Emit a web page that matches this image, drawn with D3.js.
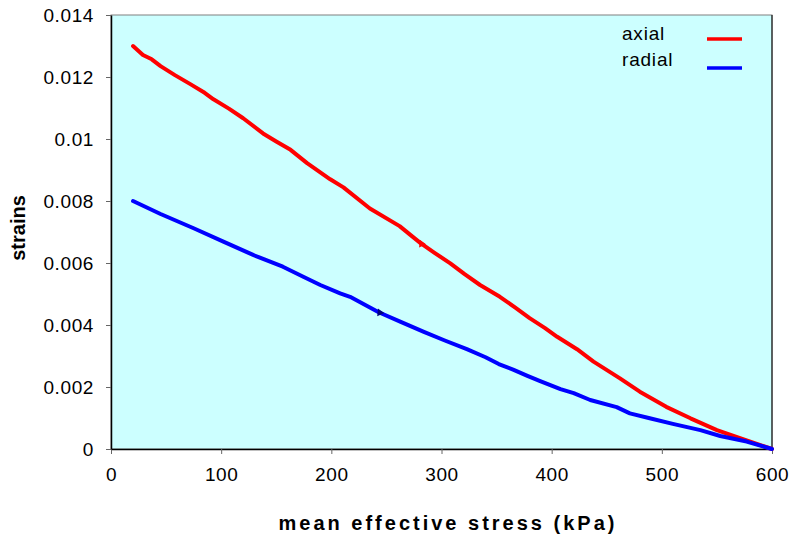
<!DOCTYPE html>
<html>
<head>
<meta charset="utf-8">
<script src="https://cdn.jsdelivr.net/npm/d3@7"></script>
<style>
  body { margin: 0; background: #fff; }
  text { font-family: "Liberation Sans", Arial, sans-serif; }
</style>
</head>
<body>
<div id="viz"></div>
<script>
// mean effective stress (kPa) vs strain
const axial = [
  [20, 0.0130], [29, 0.01271], [37, 0.01257], [45, 0.01235], [58, 0.01206],
  [72, 0.01177], [85, 0.01149], [93, 0.01128], [107, 0.01098], [120, 0.01067],
  [138, 0.01018], [150, 0.00992], [163, 0.00965], [178, 0.00922], [199, 0.0087],
  [211, 0.00844], [235, 0.00776], [262, 0.00719], [272, 0.00690], [281, 0.00664],
  [294, 0.00632], [308, 0.00599], [321, 0.00564], [335, 0.00529], [353, 0.00491],
  [367, 0.00456], [380, 0.00422], [394, 0.00390], [405, 0.00362], [423, 0.00322],
  [438, 0.00282], [462, 0.00228], [480, 0.00185], [504, 0.00136], [526, 0.00099],
  [550, 0.00061], [571, 0.00035], [600, 0]
]
const radial = [
  [20, 0.0080], [45, 0.00758], [75, 0.00712], [102, 0.00669], [129, 0.00626],
  [156, 0.00588], [175, 0.00555], [190, 0.00529], [208, 0.00502], [217, 0.00491],
  [230, 0.00466], [243, 0.00441], [263, 0.00410], [284, 0.00378], [303, 0.00350],
  [323, 0.00322], [340, 0.00296], [352, 0.00274], [365, 0.00256], [378, 0.00236],
  [389, 0.0022], [408, 0.00193], [420, 0.0018], [435, 0.00158], [459, 0.00135],
  [471, 0.00115], [489, 0.00099], [510, 0.00081], [535, 0.00061], [553, 0.00042],
  [577, 0.00024], [600, 0]
]
// little arrow-like glitches on the curves
const glitches = [
  { x: 282, y: 0.00662, color: "#ff0000" },
  { x: 244, y: 0.00440, color: "#000080" }
]
const xTicks = [0, 100, 200, 300, 400, 500, 600]
const yTicks = [0, 0.002, 0.004, 0.006, 0.008, 0.01, 0.012, 0.014]
const seriesNames = ["axial", "radial"]
const seriesColors = ["#ff0000", "#0000ff"]

const width = 791
const height = 541
const plot = { left: 111, top: 15, right: 772, bottom: 449 }

const svg = d3.select("#viz").append("svg")
  .attr("width", width)
  .attr("height", height)

const x = d3.scaleLinear().domain([0, 600]).range([plot.left, plot.right])
const y = d3.scaleLinear().domain([0, 0.014]).range([plot.bottom, plot.top])

// plot background
svg.append("rect")
  .attr("x", plot.left).attr("y", plot.top)
  .attr("width", plot.right - plot.left).attr("height", plot.bottom - plot.top)
  .attr("fill", "#ccffff")
  .attr("stroke", "#808080")
  .attr("stroke-width", 1)
svg.append("line")
  .attr("x1", plot.right).attr("x2", plot.right)
  .attr("y1", plot.top).attr("y2", plot.bottom)
  .attr("stroke", "#000")

// axes
const xAxis = svg.append("g")
  .attr("transform", `translate(0,${plot.bottom})`)
  .call(d3.axisBottom(x).tickValues(xTicks).tickSize(5).tickPadding(14).tickSizeOuter(0))
const yAxis = svg.append("g")
  .attr("transform", `translate(${plot.left},0)`)
  .call(d3.axisLeft(y).tickValues(yTicks).tickSize(5).tickPadding(12).tickSizeOuter(0)
    .tickFormat(d => d === 0 ? "0" : String(+d.toFixed(3))))

for (const ax of [xAxis, yAxis]) {
  ax.select(".domain").attr("stroke", "#000").attr("stroke-width", 1.5)
  ax.selectAll(".tick line").attr("stroke", "#666")
  ax.selectAll(".tick text")
    .attr("fill", "#000")
    .style("font-size", "19px")
    .style("letter-spacing", "0.6px")
    .style("font-family", "'Liberation Sans', Arial, sans-serif")
}

// lines
const line = d3.line().x(d => x(d[0])).y(d => y(d[1]))
svg.selectAll("path.series")
  .data([axial, radial])
  .enter()
  .append("path")
  .attr("class", "series")
  .attr("d", d => line(d))
  .attr("fill", "none")
  .attr("stroke", (d, i) => seriesColors[i])
  .attr("stroke-width", 4)
  .attr("stroke-linejoin", "round")
  .attr("stroke-linecap", "round")

svg.selectAll("path.glitch")
  .data(glitches)
  .enter()
  .append("path")
  .attr("class", "glitch")
  .attr("d", d3.symbol(d3.symbolTriangle, 26))
  .attr("transform", d => `translate(${x(d.x)},${y(d.y)}) rotate(-25)`)
  .attr("fill", d => d.color)

// legend
const legend = svg.append("g")
seriesNames.forEach((name, i) => {
  const ly = 39 + i * 29
  legend.append("text")
    .attr("x", 622).attr("y", ly + (i === 0 ? 1 : -2))
    .style("font-size", "19px")
    .style("letter-spacing", "0.8px")
    .text(name)
  legend.append("line")
    .attr("x1", 707).attr("x2", 742)
    .attr("y1", ly).attr("y2", ly)
    .attr("stroke", seriesColors[i])
    .attr("stroke-width", 3.5)
})

// axis titles
svg.append("text")
  .attr("x", 448).attr("y", 530)
  .attr("text-anchor", "middle")
  .style("font-size", "20px")
  .style("font-weight", "bold")
  .style("letter-spacing", "3px")
  .text("mean effective stress (kPa)")

svg.append("text")
  .attr("transform", "translate(25,228) rotate(-90)")
  .attr("text-anchor", "middle")
  .style("font-size", "20px")
  .style("font-weight", "bold")
  .text("strains")
</script>
</body>
</html>
